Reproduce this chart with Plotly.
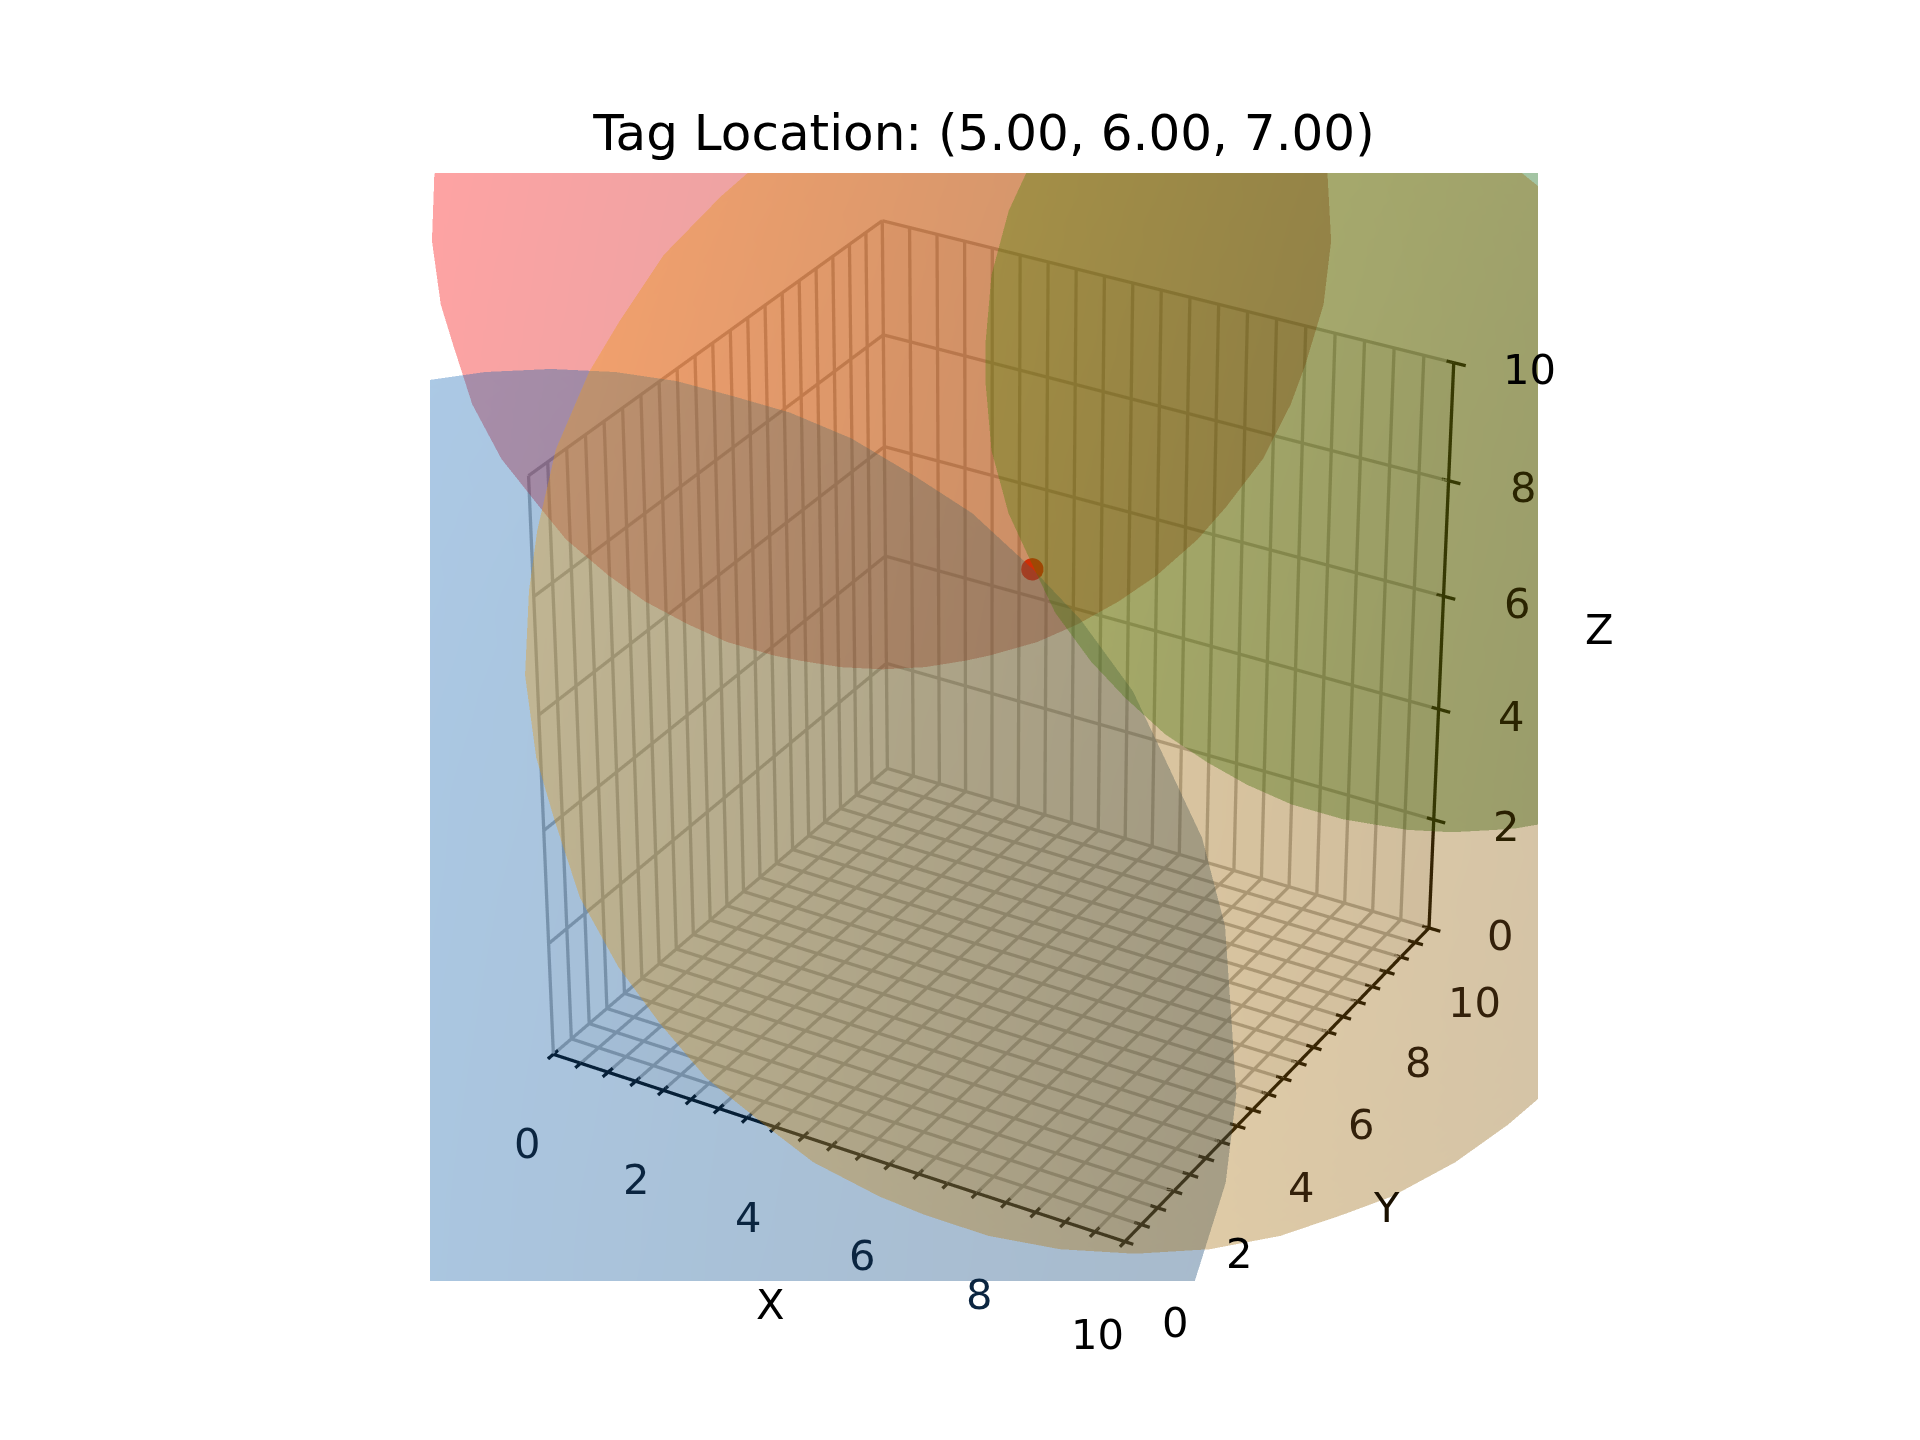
import numpy as np
import plotly.graph_objects as go

TITLE = "Tag Location: (5.00, 6.00, 7.00)"
tag_x = [5.0]
tag_y = [6.0]
tag_z = [7.0]

# drawn far to near
anchor_x = [0, 0, 10, 10]
anchor_y = [10, 0, 10, 0]
anchor_z = [10, 0, 10, 10]
anchor_r = [7.071, 10.488, 7.071, 8.367]
anchor_rgb = [(255, 0, 0), (26, 125, 218), (0, 128, 0), (240, 158, 14)]

xy_ticks = [i * 0.5 for i in range(21)]
z_ticks = [0, 2, 4, 6, 8, 10]
label_ticks = [0, 2, 4, 6, 8, 10]
x_label_colors = ["#0b2540", "#0b2540", "#0b2540", "#0b2540", "#0b2540", "#000000"]
y_label_colors = ["#000000", "#000000", "#33200a", "#33200a", "#33200a", "#33200a"]
z_label_colors = ["#33200a", "#2a2000", "#2a2400", "#2a2400", "#2a2400", "#000000"]

FONT = "DejaVu Sans"
FS = 41.67
W, H = 1920, 1440
LEFT, RIGHT, TOP, BOTTOM = 430, 1538, 173, 1281
light = np.array([-0.667, -0.667, 0.333])


def segments(pairs):
    xs, ys, zs = [], [], []
    for a, b in pairs:
        xs += [a[0], b[0], None]
        ys += [a[1], b[1], None]
        zs += [a[2], b[2], None]
    return xs, ys, zs


def line_trace(pairs, color, width):
    xs, ys, zs = segments(pairs)
    return go.Scatter3d(x=xs, y=ys, z=zs, mode="lines", scene="scene2", hoverinfo="skip",
                        showlegend=False, connectgaps=False, line=dict(color=color, width=width))


grid = []
for t in xy_ticks:
    grid += [((t, 0, 0), (t, 10, 0)), ((t, 10, 0), (t, 10, 10)),
             ((0, t, 0), (10, t, 0)), ((0, t, 0), (0, t, 10))]
for t in z_ticks:
    grid += [((0, 0, t), (0, 10, t)), ((0, 10, t), (10, 10, t))]
ticks = []
for t in xy_ticks:
    ticks += [((t, -0.15, 0), (t, 0.13, 0)), ((9.88, t, 0), (10.14, t, 0))]
for t in z_ticks:
    ticks += [((9.88, 10, t), (10.2, 10, t))]
spines = [((0, 0, 0), (10, 0, 0)), ((10, 0, 0), (10, 10, 0)), ((10, 10, 0), (10, 10, 10))]

fig = go.Figure()
# scene: panes only, scene2: grid and axes, scene3: spheres
fig.add_trace(go.Scatter3d(x=[5], y=[5], z=[5], mode="markers", scene="scene", hoverinfo="skip",
                           marker=dict(size=1, opacity=0), showlegend=False))
fig.add_trace(line_trace(grid, "#b0b0b0", 6.6))
fig.add_trace(line_trace(ticks, "#000000", 6.6))
fig.add_trace(line_trace(spines, "#000000", 6.6))
fig.add_trace(go.Scatter3d(x=tag_x, y=tag_y, z=tag_z, mode="markers", scene="scene2",
                           marker=dict(color="#ff0000", size=13, line=dict(width=0)),
                           hoverinfo="skip", showlegend=False))

u = np.linspace(0, 2 * np.pi, 31)
v = np.linspace(0, np.pi, 21)
for cx, cy, cz, r, rgb in zip(anchor_x, anchor_y, anchor_z, anchor_r, anchor_rgb):
    nx = np.outer(np.cos(u), np.sin(v))
    ny = np.outer(np.sin(u), np.sin(v))
    nz = np.outer(np.ones_like(u), np.cos(v))
    shade = 0.5 + 0.25 * (1 + light[0] * nx + light[1] * ny + light[2] * nz)
    dark = "rgb(%d,%d,%d)" % tuple(int(c * 0.5) for c in rgb)
    fig.add_trace(go.Surface(
        x=cx + r * nx, y=cy + r * ny, z=cz + r * nz, surfacecolor=shade,
        cmin=0.5, cmax=1.0, colorscale=[[0, dark], [1, "rgb(%d,%d,%d)" % rgb]],
        showscale=False, opacity=0.2, scene="scene3", hoverinfo="skip",
        lighting=dict(ambient=1, diffuse=0, specular=0, fresnel=0, roughness=1)))


def pane_axis(pane):
    return dict(range=[0, 10], showticklabels=False, ticks="", showline=False, showgrid=False,
                zeroline=False, showbackground=True, backgroundcolor=pane,
                title=dict(text=""), showspikes=False)


hidden = dict(range=[-15, 25], visible=False, showspikes=False)
center = dict(x=-0.01404, y=-0.02127, z=-0.01974)
camera = dict(center=center, up=dict(x=0, y=0, z=1),
              eye=dict(x=3.936 + center["x"], y=-6.818 + center["y"], z=4.545 + center["z"]),
              projection=dict(type="perspective"))
dom = dict(x=[LEFT / W, RIGHT / W], y=[1 - BOTTOM / H, 1 - TOP / H])

annos = []
def lab(x, y, z, text, color):
    annos.append(dict(x=x, y=y, z=z, text=text, showarrow=False, xanchor="center", yanchor="middle",
                      font=dict(family=FONT, size=FS, color=color)))

for t, c in zip(label_ticks, x_label_colors):
    lab(t, -0.8, -1.17, str(t), c)
for t, c in zip(label_ticks, y_label_colors):
    lab(10.86, t, -1.13, str(t), c)
for t, c in zip(label_ticks, z_label_colors):
    lab(11.08, 10.37, t, str(t), c)
lab(5, -1.81, -1.78, "X", "#000000")
lab(11.82, 5, -1.75, "Y", "#1a1000")
lab(11.93, 11.6, 5.18, "Z", "#000000")

fig.update_layout(
    width=W, height=H, autosize=False, margin=dict(l=0, r=0, t=0, b=0),
    paper_bgcolor="white", showlegend=False,
    title=dict(text=TITLE, x=984 / W, y=1 - 132 / H, xanchor="center", yanchor="middle",
               font=dict(family=FONT, size=50, color="black")),
    scene=dict(domain=dom, xaxis=pane_axis("#f9f9f9"), yaxis=pane_axis("#f2f2f2"),
               zaxis=pane_axis("#f5f5f5"), aspectmode="manual",
               aspectratio=dict(x=1, y=1, z=1), camera=camera, bgcolor="rgba(0,0,0,0)"),
    scene2=dict(domain=dom, xaxis=hidden, yaxis=hidden, zaxis=hidden, aspectmode="manual",
                aspectratio=dict(x=4, y=4, z=4), camera=camera, bgcolor="rgba(0,0,0,0)"),
    scene3=dict(domain=dom, xaxis=hidden, yaxis=hidden, zaxis=hidden, aspectmode="manual",
                aspectratio=dict(x=4, y=4, z=4), camera=camera, bgcolor="rgba(0,0,0,0)",
                annotations=annos),
)

post = """
document.body.style.margin = '0';
var gd = document.getElementById('{plot_id}');
['scene', 'scene2', 'scene3'].forEach(function (k) {
  var g = gd._fullLayout[k]._scene.glplot;
  g.fovy = 2 * Math.atan(0.0925);
  g.redraw();
});
"""
fig.write_html("out.html", post_script=post, config=dict(displayModeBar=False))
